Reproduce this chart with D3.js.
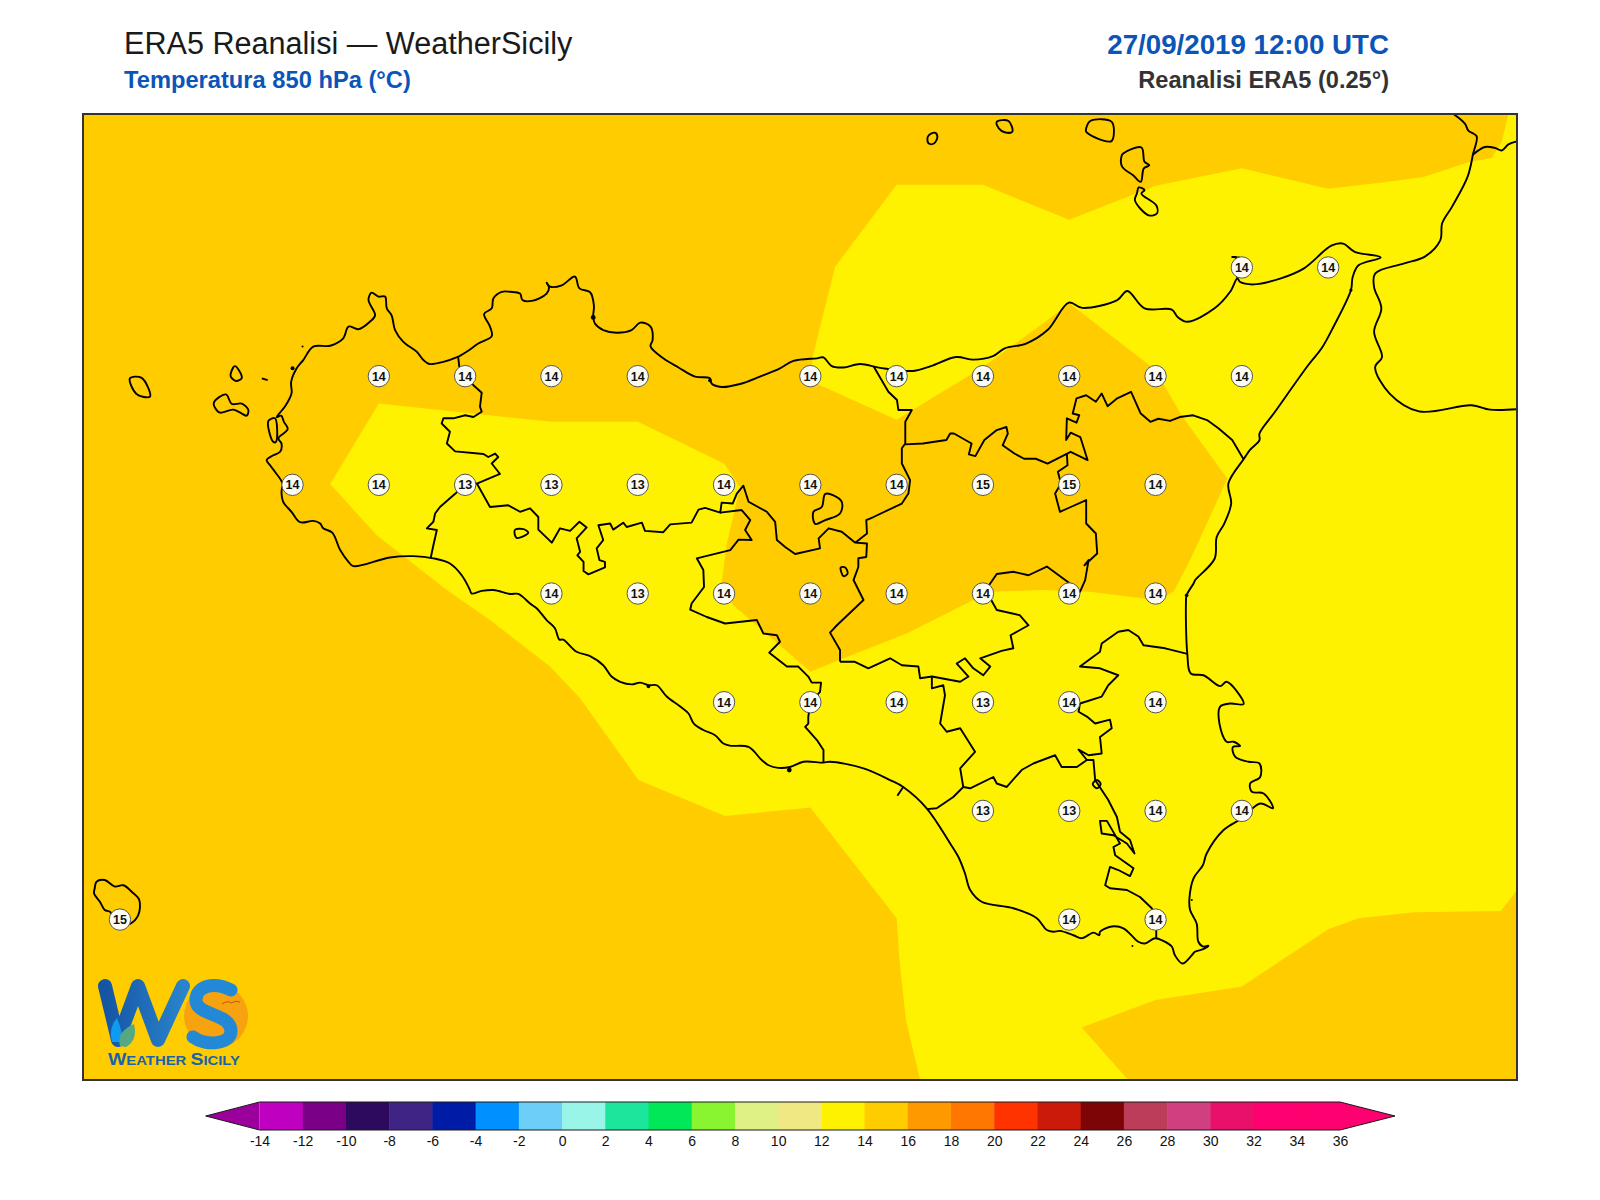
<!DOCTYPE html>
<html>
<head>
<meta charset="utf-8">
<title>ERA5 Reanalisi - Temperatura 850 hPa</title>
<script src="https://cdn.jsdelivr.net/npm/d3@7"></script>
<style>
  html, body { margin: 0; padding: 0; background: #fff; }
  svg { display: block; }
  text { font-family: "Liberation Sans", Arial, sans-serif; }
</style>
</head>
<body>
<div id="chart"></div>
<script>
// map window (degrees)
var lonRange = [11.893, 16.047];
var latRange = [38.603, 36.381];

// grid points with the 850 hPa temperature printed on them: [lon, lat, value]
var stations = [
  [15.25,38.25,14],[15.5,38.25,14],
  [12.75,38,14],[13,38,14],[13.25,38,14],[13.5,38,14],[14,38,14],[14.25,38,14],[14.5,38,14],[14.75,38,14],[15,38,14],[15.25,38,14],
  [12.5,37.75,14],[12.75,37.75,14],[13,37.75,13],[13.25,37.75,13],[13.5,37.75,13],[13.75,37.75,14],[14,37.75,14],[14.25,37.75,14],[14.5,37.75,15],[14.75,37.75,15],[15,37.75,14],
  [13.25,37.5,14],[13.5,37.5,13],[13.75,37.5,14],[14,37.5,14],[14.25,37.5,14],[14.5,37.5,14],[14.75,37.5,14],[15,37.5,14],
  [13.75,37.25,14],[14,37.25,14],[14.25,37.25,14],[14.5,37.25,13],[14.75,37.25,14],[15,37.25,14],
  [14.5,37,13],[14.75,37,13],[15,37,14],[15.25,37,14],
  [12,36.75,15],[14.75,36.75,14],[15,36.75,14]
];

// the 14 degree isotherm: inside is the 12-14 class, outside the 14-16 class
var isotherm14 = [
  [14.25,38.44],[14.5,38.44],[14.75,38.36],[15,38.438],[15.25,38.478],[15.5,38.431],[15.65,38.445],[15.776,38.458],[15.911,38.493],[15.974,38.502],[16.003,38.539],[16.022,38.603],[16.047,38.603],
  [16.047,36.818],[16,36.77],[15.75,36.767],[15.588,36.753],[15.5,36.728],[15.25,36.596],[15,36.565],[14.786,36.502],[14.921,36.381],
  [14.318,36.381],[14.277,36.518],[14.258,36.657],[14.25,36.753],[14,37.008],[13.753,36.988],[13.502,37.071],[13.333,37.259],[13.246,37.332],[13.072,37.439],[12.947,37.508],[12.744,37.634],[12.609,37.752],
  [12.75,37.937],[13,37.916],[13.25,37.895],[13.5,37.895],[13.75,37.799],[13.796,37.745],[13.758,37.615],[13.743,37.523],[13.777,37.473],[14,37.32],[14.096,37.351],[14.279,37.408],[14.472,37.485],[14.53,37.504],[14.665,37.508],[14.81,37.504],[14.96,37.489],[15,37.481],[15.052,37.504],[15.1,37.577],
  [15.208,37.764],[15.075,37.91],[15,38.014],[14.751,38.167],[14.687,38.129],[14.5,38.021],[14.25,37.9],[14.028,37.979],[14,38],[14.007,38.045],[14.026,38.106],[14.072,38.252]
];

// Sicily coast, clockwise from the south-west
var sicilyCoast = [
  [13.014,37.508],[12.99,37.542],[12.956,37.569],[12.908,37.581],[12.85,37.586],[12.782,37.583],[12.676,37.563],[12.662,37.573],[12.638,37.6],[12.615,37.64],[12.589,37.65],[12.58,37.661],[12.56,37.667],[12.522,37.664],[12.497,37.688],[12.473,37.711],[12.468,37.734],[12.471,37.753],[12.449,37.78],[12.435,37.795],[12.425,37.807],[12.444,37.818],[12.464,37.826],[12.468,37.845],[12.459,37.857],[12.486,37.878],[12.475,37.895],[12.467,37.909],[12.454,37.906],[12.478,37.93],[12.497,37.96],[12.496,37.987],[12.512,38.018],[12.531,38.037],[12.56,38.068],[12.609,38.07],[12.647,38.087],[12.662,38.114],[12.691,38.108],[12.724,38.125],[12.739,38.14],[12.72,38.175],[12.729,38.192],[12.749,38.183],[12.768,38.183],[12.773,38.156],[12.787,38.14],[12.797,38.106],[12.821,38.079],[12.86,38.056],[12.879,38.037],[12.896,38.028],[12.937,38.033],
  [12.975,38.043],[13.004,38.056],[13.038,38.075],[13.077,38.092],[13.072,38.114],[13.055,38.143],[13.077,38.156],[13.082,38.179],[13.106,38.194],[13.13,38.194],[13.159,38.19],[13.166,38.175],[13.193,38.173],[13.236,38.19],[13.243,38.204],[13.236,38.215],[13.246,38.206],[13.28,38.209],[13.318,38.229],[13.331,38.202],[13.362,38.193],[13.373,38.163],[13.371,38.137],[13.376,38.121],[13.4,38.106],[13.439,38.1],[13.482,38.106],[13.507,38.123],[13.537,38.114],[13.543,38.083],[13.537,38.069],[13.574,38.041],[13.618,38.02],[13.666,37.999],[13.709,37.995],[13.714,37.983],[13.743,37.975],[13.796,37.982],[13.854,37.999],[13.912,38.018],[13.951,38.035],[14.019,38.041],[14.038,38.043],[14.062,38.023],[14.096,38.02],[14.144,38.028],
  [14.202,38.019],[14.298,38.012],[14.349,38.023],[14.422,38.044],[14.472,38.038],[14.529,38.046],[14.563,38.064],[14.625,38.075],[14.687,38.106],[14.749,38.169],[14.788,38.157],[14.889,38.175],[14.918,38.196],[14.968,38.156],[15.047,38.153],[15.064,38.136],[15.092,38.125],[15.171,38.156],[15.216,38.194],[15.237,38.225],[15.244,38.217],[15.284,38.211],[15.363,38.225],[15.43,38.248],[15.509,38.3],[15.543,38.305],[15.577,38.286],[15.652,38.273],[15.588,38.255],[15.571,38.228],[15.566,38.198],[15.515,38.113],[15.481,38.064],[15.442,38.025],[15.346,37.918],[15.301,37.868],[15.301,37.853],[15.273,37.83],[15.256,37.81],[15.211,37.753],[15.219,37.707],[15.199,37.661],[15.177,37.63],[15.171,37.58],[15.115,37.531],[15.11,37.523],[15.09,37.496],[15.088,37.477],[15.092,37.361],[15.102,37.316],[15.139,37.312],[15.187,37.287],[15.206,37.297],[15.255,37.246],[15.216,37.247],[15.187,37.24],[15.185,37.201],[15.206,37.159],[15.226,37.159],[15.245,37.149],[15.224,37.147],[15.231,37.124],[15.269,37.113],[15.301,37.109],[15.303,37.078],[15.274,37.063],[15.279,37.044],[15.313,37.04],[15.34,37.006],[15.303,37.017],[15.25,36.983],[15.197,36.956],[15.148,36.902],[15.137,36.875],[15.11,36.845],[15.098,36.798],
  [15.1,36.772],[15.119,36.741],[15.124,36.699],[15.138,36.688],[15.153,36.69],[15.138,36.682],[15.114,36.676],[15.105,36.668],[15.078,36.649],[15.056,36.668],[15.047,36.688],[15.022,36.701],[14.998,36.707],[14.969,36.695],[14.95,36.699],[14.907,36.73],[14.873,36.734],[14.839,36.722],[14.837,36.714],[14.82,36.72],[14.786,36.707],[14.762,36.714],[14.723,36.724],[14.704,36.722],[14.685,36.726],[14.656,36.753],[14.588,36.776],[14.496,36.791],[14.463,36.818],[14.448,36.856],[14.429,36.894],[14.405,36.925],[14.337,37.006],[14.269,37.055],[14.231,37.071],[14.154,37.098],[14.057,37.113],[14.038,37.111],[13.98,37.113],[13.941,37.101],[13.907,37.099],[13.879,37.105],[13.859,37.117],[13.821,37.147],[13.767,37.15],[13.748,37.155],[13.724,37.174],[13.69,37.186],[13.663,37.2],[13.647,37.224],[13.623,37.24],[13.584,37.263],[13.555,37.289],[13.531,37.289],[13.507,37.295],[13.482,37.291],[13.449,37.297],[13.424,37.309],[13.4,37.335],[13.362,37.356],[13.323,37.366],[13.284,37.394],[13.273,37.394],[13.26,37.42],[13.236,37.439],[13.207,37.466],[13.188,37.477],[13.154,37.499],[13.13,37.499],[13.082,37.508],[13.048,37.506],[13.019,37.5],[13.014,37.508]
];

// other land and lakes, closed rings
var closedRings = [
  [[12.029,37.995],[12.063,37.996],[12.087,37.953],[12.048,37.959]],
  [[12.272,37.939],[12.307,37.958],[12.324,37.936],[12.353,37.937],[12.372,37.922],[12.367,37.909],[12.353,37.914],[12.328,37.923],[12.29,37.916],[12.28,37.922]],
  [[12.321,38.006],[12.333,38.023],[12.353,37.996],[12.336,37.989],[12.321,37.999]],
  [[12.43,37.897],[12.449,37.903],[12.452,37.849],[12.444,37.849]],
  [[14.343,38.554],[14.36,38.56],[14.368,38.551],[14.358,38.535],[14.343,38.535],[14.339,38.547]],
  [[14.54,38.585],[14.574,38.587],[14.585,38.562],[14.563,38.561],[14.546,38.57]],
  [[14.799,38.57],[14.811,38.587],[14.873,38.585],[14.873,38.541],[14.844,38.543],[14.799,38.562]],
  [[14.906,38.512],[14.959,38.526],[14.968,38.493],[14.982,38.485],[14.966,38.478],[14.957,38.447],[14.935,38.462],[14.903,38.482],[14.901,38.505]],
  [[14.951,38.434],[14.968,38.428],[14.959,38.42],[15.002,38.393],[15.004,38.374],[14.98,38.37],[14.94,38.405],[14.946,38.42]],
  [[11.927,36.822],[11.932,36.837],[11.956,36.841],[11.985,36.826],[12.01,36.829],[12.034,36.814],[12.056,36.795],[12.053,36.76],[12.029,36.74],[11.998,36.737],[11.971,36.768],[11.956,36.772],[11.942,36.791],[11.925,36.81]],
  [[14.088,37.56],[14.101,37.56],[14.108,37.546],[14.096,37.54]],
  [[14.043,37.729],[14.067,37.726],[14.091,37.711],[14.086,37.684],[14.043,37.669],[14.014,37.66],[14.009,37.688],[14.033,37.699]],
  [[13.144,37.646],[13.169,37.648],[13.183,37.64],[13.149,37.628]],
  [[14.818,37.062],[14.83,37.071],[14.841,37.062],[14.83,37.052]]
];

// Calabria and short open pieces of coast
var calabriaCoast = [[16.047,37.924],[15.969,37.923],[15.915,37.933],[15.763,37.919],[15.678,37.96],[15.636,38.021],[15.656,38.044],[15.633,38.102],[15.654,38.156],[15.633,38.205],[15.636,38.236],[15.718,38.259],[15.78,38.275],[15.825,38.313],[15.83,38.351],[15.859,38.39],[15.904,38.459],[15.92,38.512],[15.93,38.552],[15.906,38.565],[15.896,38.581],[15.863,38.603]];
var calabriaInlet = [[15.92,38.51],[15.954,38.527],[15.983,38.525],[16.003,38.519],[16.022,38.533],[16.047,38.54]];
var milazzoCape = [[15.237,38.225],[15.233,38.274],[15.222,38.274],[15.244,38.273]];
var formica = [[12.411,37.995],[12.428,37.991]];

// provincial borders
var trapaniBorder = [[12.98,38.043],[12.983,38.022],[13.024,37.979],[13.048,37.962],[13.043,37.93],[13.048,37.918],[13.024,37.906],[13,37.91],[12.966,37.903],[12.937,37.903],[12.932,37.891],[12.956,37.872],[12.947,37.845],[12.971,37.827],[13.053,37.821],[13.067,37.814],[13.087,37.822],[13.096,37.814],[13.077,37.799],[13.101,37.775],[13.058,37.761],[13.034,37.753],[13,37.749],[12.966,37.726],[12.927,37.699],[12.913,37.684],[12.908,37.665],[12.889,37.65],[12.918,37.646],[12.908,37.611],[12.9,37.581]];
var palermoSouthBorder = [[13.034,37.753],[13.072,37.699],[13.125,37.703],[13.159,37.688],[13.188,37.696],[13.212,37.676],[13.212,37.647],[13.251,37.617],[13.275,37.65],[13.304,37.644],[13.331,37.665],[13.352,37.652],[13.323,37.627],[13.333,37.596],[13.325,37.588],[13.343,37.573],[13.343,37.552],[13.357,37.544],[13.405,37.56],[13.405,37.573],[13.389,37.577],[13.381,37.604],[13.4,37.623],[13.386,37.657],[13.42,37.661],[13.429,37.647],[13.458,37.663],[13.468,37.653],[13.512,37.663],[13.521,37.644],[13.574,37.641],[13.594,37.659],[13.656,37.663],[13.676,37.693],[13.695,37.697],[13.739,37.686],[13.743,37.709],[13.775,37.707],[13.787,37.73],[13.806,37.748],[13.821,37.711],[13.874,37.688],[13.898,37.665],[13.903,37.623],[13.927,37.607],[13.956,37.591],[14.028,37.604],[14.024,37.627],[14.053,37.65],[14.091,37.642],[14.13,37.617]];
var palermoEastBorder = [[14.183,38.023],[14.226,37.964],[14.251,37.945],[14.255,37.922],[14.294,37.922],[14.275,37.895],[14.275,37.845],[14.265,37.834],[14.265,37.799],[14.289,37.761],[14.284,37.73],[14.265,37.707],[14.183,37.676],[14.162,37.669],[14.164,37.638],[14.13,37.617]];
var ennaWestBorder = [[14.13,37.617],[14.164,37.615],[14.162,37.584],[14.139,37.581],[14.139,37.561],[14.125,37.531],[14.154,37.485],[14.077,37.427],[14.057,37.41],[14.086,37.37],[14.086,37.343]];
var agrigentoEastBorder = [[13.739,37.686],[13.801,37.692],[13.826,37.669],[13.811,37.646],[13.83,37.623],[13.792,37.624],[13.768,37.6],[13.671,37.581],[13.69,37.554],[13.692,37.515],[13.656,37.477],[13.652,37.463],[13.7,37.446],[13.753,37.431],[13.845,37.439],[13.864,37.408],[13.903,37.404],[13.912,37.389],[13.881,37.364],[13.932,37.332],[13.965,37.332],[13.994,37.309],[14.004,37.295],[14.031,37.295],[14.028,37.274],[14.001,37.25],[13.994,37.217],[13.994,37.201],[13.985,37.193],[14.019,37.163],[14.038,37.14],[14.038,37.111]];
var cataniaSouthBorder = [[14.086,37.343],[14.129,37.343],[14.168,37.328],[14.231,37.351],[14.265,37.335],[14.313,37.332],[14.318,37.305],[14.352,37.309],[14.352,37.282],[14.385,37.289],[14.39,37.266],[14.376,37.201],[14.395,37.182],[14.434,37.19],[14.477,37.136],[14.434,37.098],[14.443,37.055],[14.463,37.052],[14.53,37.078],[14.54,37.063],[14.569,37.055],[14.612,37.094],[14.646,37.109],[14.709,37.128],[14.728,37.101],[14.772,37.101],[14.801,37.117],[14.777,37.141],[14.806,37.128],[14.844,37.132],[14.839,37.17],[14.873,37.19],[14.868,37.21],[14.825,37.201],[14.801,37.217],[14.777,37.228],[14.781,37.247],[14.844,37.263],[14.863,37.289],[14.892,37.312],[14.839,37.328],[14.781,37.332],[14.839,37.366],[14.844,37.385],[14.892,37.412],[14.921,37.416],[14.95,37.401],[14.965,37.381],[15.028,37.374],[15.092,37.361]];
var ennaEastBorder = [[14.352,37.309],[14.434,37.297],[14.458,37.309],[14.424,37.339],[14.448,37.351],[14.472,37.328],[14.501,37.312],[14.521,37.332],[14.492,37.351],[14.554,37.368],[14.588,37.374],[14.58,37.404],[14.632,37.427],[14.607,37.45],[14.54,37.462],[14.521,37.489],[14.501,37.5],[14.54,37.545],[14.588,37.55],[14.632,37.542],[14.685,37.562],[14.752,37.523],[14.781,37.504],[14.796,37.531],[14.806,37.577],[14.794,37.565],[14.831,37.592],[14.827,37.638],[14.799,37.661],[14.799,37.715],[14.743,37.695],[14.723,37.688],[14.709,37.73],[14.726,37.753],[14.717,37.78],[14.745,37.795],[14.743,37.822]];
var messinaSouthBorder = [[15.254,37.81],[15.222,37.853],[15.182,37.88],[15.149,37.899],[15.109,37.91],[15.07,37.906],[15.042,37.897],[15.008,37.902],[14.985,37.895],[14.957,37.914],[14.929,37.964],[14.889,37.949],[14.861,37.931],[14.844,37.96],[14.827,37.941],[14.799,37.956],[14.771,37.949],[14.76,37.914],[14.779,37.91],[14.771,37.893],[14.743,37.903],[14.741,37.853],[14.754,37.87],[14.782,37.86],[14.803,37.807],[14.754,37.826],[14.687,37.799],[14.653,37.81],[14.619,37.81],[14.591,37.822],[14.557,37.841],[14.572,37.868],[14.568,37.883],[14.54,37.876],[14.504,37.853],[14.478,37.816],[14.459,37.82],[14.467,37.845],[14.416,37.868],[14.405,37.868],[14.394,37.853],[14.326,37.845],[14.275,37.843]];
var caltanissettaBorder = [[14.443,37.055],[14.414,37.032],[14.366,37.006],[14.337,37.004]];
var geloTick = [[14.269,37.055],[14.252,37.035]];
var ragusaBorder = [[14.801,37.117],[14.82,37.117],[14.825,37.071],[14.863,37.025],[14.888,36.986],[14.897,36.952],[14.926,36.933],[14.939,36.902],[14.917,36.925],[14.878,36.944],[14.844,36.948],[14.839,36.977],[14.859,36.977],[14.897,36.925],[14.878,36.917],[14.883,36.898],[14.936,36.868],[14.926,36.85],[14.892,36.864],[14.868,36.871],[14.854,36.829],[14.868,36.822],[14.917,36.818],[14.955,36.802],[14.989,36.776],[15.002,36.749],[15.002,36.706]];

// harbours and islets too small to show as outlines: [lon, lat, radius]
var coastDots = [[13.371,38.135,2.4],[15.566,38.198,1.6],[15.09,37.496,1.8],[13.939,37.094,2.4],[13.531,37.286,1.8],[14.933,36.689,1],[15.105,36.795,1],[12.529,38.068,1],[12.5,38.018,2],[13.709,37.99,1.8]];

// colour bar
var barTicks = [-14,-12,-10,-8,-6,-4,-2,0,2,4,6,8,10,12,14,16,18,20,22,24,26,28,30,32,34,36];
var barColors = ["#c000c0","#7a0088","#2e0a5e","#3f2385","#001ba5","#0090ff","#6dcef7","#98f5e8","#1ce69b","#00e858","#88f530","#dff084","#f0e882","#fff200","#ffcc00","#ff9900","#ff7700","#ff3300","#cc1a0a","#7d0505","#bb3d5a","#d04080","#e8106a","#ff0070","#ff0070"];
var barLow = "#9c009c";
var barHigh = "#ff0070";

var svg = d3.select("#chart").append("svg").attr("width", 1600).attr("height", 1200);
svg.append("rect").attr("width", 1600).attr("height", 1200).attr("fill", "#fff");

var mapBox = { x0: 83, x1: 1517, y0: 114, y1: 1080 };
var lonScale = d3.scaleLinear().domain(lonRange).range([mapBox.x0, mapBox.x1]);
var latScale = d3.scaleLinear().domain(latRange).range([mapBox.y0, mapBox.y1]);
var geoLine = d3.line().x(d => lonScale(d[0])).y(d => latScale(d[1]));
var coastLine = d3.line().x(d => lonScale(d[0])).y(d => latScale(d[1])).curve(d3.curveCatmullRom.alpha(0.5));
var ringLine = d3.line().x(d => lonScale(d[0])).y(d => latScale(d[1])).curve(d3.curveCatmullRomClosed.alpha(0.5));

svg.append("clipPath").attr("id", "mapClip").append("rect")
  .attr("x", mapBox.x0).attr("y", mapBox.y0)
  .attr("width", mapBox.x1 - mapBox.x0).attr("height", mapBox.y1 - mapBox.y0);

var map = svg.append("g").attr("clip-path", "url(#mapClip)");

// filled classes
map.append("rect")
  .attr("x", mapBox.x0).attr("y", mapBox.y0)
  .attr("width", mapBox.x1 - mapBox.x0).attr("height", mapBox.y1 - mapBox.y0)
  .attr("fill", "#ffcc00");
map.append("path").attr("d", geoLine(isotherm14) + "Z").attr("fill", "#fff200");

// coast and borders
var coastLines = [sicilyCoast, calabriaCoast, calabriaInlet];
var borderLines = [milazzoCape, formica, trapaniBorder, palermoSouthBorder, palermoEastBorder, ennaWestBorder, agrigentoEastBorder, cataniaSouthBorder, ennaEastBorder, messinaSouthBorder, caltanissettaBorder, geloTick, ragusaBorder];
function blackLine(sel) {
  sel.attr("fill", "none").attr("stroke", "#000").attr("stroke-width", 1.9).attr("stroke-linejoin", "round");
}
map.selectAll("path.coast").data(coastLines).enter().append("path")
  .attr("class", "coast").attr("d", coastLine).call(blackLine);
map.selectAll("path.border").data(borderLines).enter().append("path")
  .attr("class", "border").attr("d", geoLine).call(blackLine);
map.selectAll("path.ring").data(closedRings).enter().append("path")
  .attr("class", "ring").attr("d", ringLine).call(blackLine);
map.selectAll("circle.dot").data(coastDots).enter().append("circle")
  .attr("class", "dot")
  .attr("cx", d => lonScale(d[0])).attr("cy", d => latScale(d[1])).attr("r", d => d[2])
  .attr("fill", "#000");

// grid point labels
var marker = map.selectAll("g.station").data(stations).enter().append("g")
  .attr("class", "station")
  .attr("transform", d => "translate(" + lonScale(d[0]) + "," + latScale(d[1]) + ")");
marker.append("circle").attr("r", 10.7).attr("fill", "#fdfcf2").attr("stroke", "#555").attr("stroke-width", 1);
marker.append("text")
  .attr("text-anchor", "middle").attr("y", 4.4)
  .attr("font-size", 12.5).attr("font-weight", "bold").attr("fill", "#111")
  .text(d => d[2]);

// logo
var defs = svg.append("defs");
var wGrad = defs.append("linearGradient").attr("id", "wGrad");
wGrad.append("stop").attr("offset", "0%").attr("stop-color", "#1455a4");
wGrad.append("stop").attr("offset", "100%").attr("stop-color", "#2a83cc");
var logo = svg.append("g");
logo.append("circle").attr("cx", 216).attr("cy", 1016).attr("r", 32).attr("fill", "#f7a20f");
logo.append("path").attr("d", "M105,986L118,1040L138,986L158,1040L183,986")
  .attr("fill", "none").attr("stroke", "url(#wGrad)").attr("stroke-width", 14)
  .attr("stroke-linecap", "round").attr("stroke-linejoin", "round");
logo.append("path").attr("d", "M231,990C214,981 195,986 196,1001C197,1016 231,1013 231,1031C231,1045 205,1046 193,1037")
  .attr("fill", "none").attr("stroke", "#2389d6").attr("stroke-width", 13).attr("stroke-linecap", "round");
logo.append("path").attr("d", "M112,1042q-4,-14 5,-24q5,12 6,24z").attr("fill", "#0f9cf0");
logo.append("path").attr("d", "M120,1046q-4,-14 14,-22q4,16 -8,23z").attr("fill", "#55a882");
logo.append("path").attr("d", "M222,1004q6,-4 9,-1q5,-3 9,-1").attr("fill", "none").attr("stroke", "#c8501a").attr("stroke-width", 1);
var logoText = logo.append("text").attr("x", 108).attr("y", 1065)
  .attr("font-weight", "bold").attr("fill", "#1a62ac")
  .attr("textLength", 132).attr("lengthAdjust", "spacingAndGlyphs");
logoText.append("tspan").attr("font-size", 17).text("W");
logoText.append("tspan").attr("font-size", 13).text("EATHER ");
logoText.append("tspan").attr("font-size", 17).text("S");
logoText.append("tspan").attr("font-size", 13).text("ICILY");

// map frame
svg.append("rect")
  .attr("x", mapBox.x0).attr("y", mapBox.y0)
  .attr("width", mapBox.x1 - mapBox.x0).attr("height", mapBox.y1 - mapBox.y0)
  .attr("fill", "none").attr("stroke", "#333").attr("stroke-width", 2);

// headings
svg.append("text").attr("x", 124).attr("y", 54).attr("font-size", 30.6).attr("fill", "#1a1a1a")
  .text("ERA5 Reanalisi \u2014 WeatherSicily");
svg.append("text").attr("x", 124).attr("y", 88).attr("font-size", 23.7).attr("font-weight", "bold").attr("fill", "#0b55b8")
  .text("Temperatura 850 hPa (\u00b0C)");
svg.append("text").attr("x", 1389).attr("y", 54).attr("text-anchor", "end").attr("font-size", 27.7).attr("font-weight", "bold").attr("fill", "#0b55b8")
  .text("27/09/2019 12:00 UTC");
svg.append("text").attr("x", 1389).attr("y", 88).attr("text-anchor", "end").attr("font-size", 23.6).attr("font-weight", "bold").attr("fill", "#333")
  .text("Reanalisi ERA5 (0.25\u00b0)");

// colour bar
var barTop = 1102, barBottom = 1130, barMid = (barTop + barBottom) / 2;
var tempScale = d3.scaleLinear().domain([-14, 36]).range([259.5, 1340]);
var bar = svg.append("g");
bar.selectAll("rect").data(barColors).enter().append("rect")
  .attr("x", (d, i) => tempScale(barTicks[i]))
  .attr("y", barTop)
  .attr("width", (d, i) => tempScale(barTicks[i + 1]) - tempScale(barTicks[i]) + 0.5)
  .attr("height", barBottom - barTop)
  .attr("fill", d => d);
bar.append("path").attr("d", "M" + tempScale(-14) + "," + barTop + "L205.7," + barMid + "L" + tempScale(-14) + "," + barBottom + "Z").attr("fill", barLow);
bar.append("path").attr("d", "M" + tempScale(36) + "," + barTop + "L1395," + barMid + "L" + tempScale(36) + "," + barBottom + "Z").attr("fill", barHigh);
bar.append("path")
  .attr("d", "M" + tempScale(-14) + "," + barTop + "L" + tempScale(36) + "," + barTop + "L1395," + barMid + "L" + tempScale(36) + "," + barBottom + "L" + tempScale(-14) + "," + barBottom + "L205.7," + barMid + "Z")
  .attr("fill", "none").attr("stroke", "#1a1a1a").attr("stroke-width", 1);
bar.selectAll("text").data(barTicks).enter().append("text")
  .attr("x", d => tempScale(d) + 0.5).attr("y", 1146)
  .attr("text-anchor", "middle").attr("font-size", 14).attr("fill", "#111")
  .text(d => d);
</script>
</body>
</html>
